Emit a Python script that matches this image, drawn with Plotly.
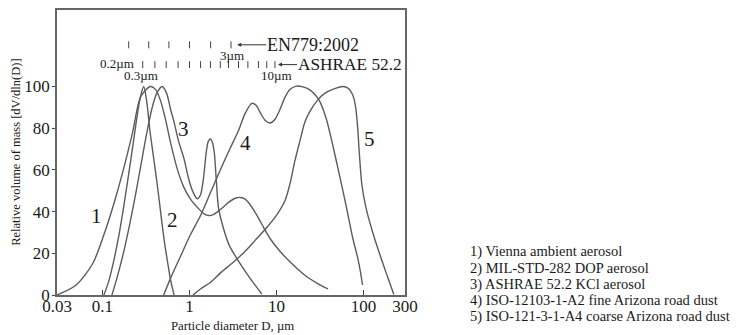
import numpy as np
import plotly.graph_objects as go

# ---- data (particle diameter in µm, relative volume) ----
d1 = [0.03, 0.0498, 0.0773, 0.1096, 0.1364, 0.1702, 0.2213, 0.2754, 0.3556, 0.4087, 0.4662, 0.5317,
      0.6065, 0.7292, 0.854, 1.027, 1.267, 1.483, 1.662, 1.88, 2.261, 2.791, 3.356, 3.827, 4.365,
      4.979, 5.985, 7.197, 8.427, 10.96, 14.27, 21.17, 29.81, 39.08]
v1 = [0, 4.8, 15.1, 31.8, 44.4, 58.7, 77.8, 95.2, 100, 98.5, 93, 84,
      73, 60, 52, 46, 41.5, 38.8, 38.1, 38.6, 41, 44.3, 46.4, 46.8, 46,
      43.3, 38.1, 32, 27.1, 21, 15.9, 9.5, 5.5, 2.9]

d2 = [0.104, 0.1187, 0.1353, 0.1543, 0.1761, 0.2009, 0.2291, 0.2544, 0.2754, 0.2979, 0.3225, 0.349,
      0.3777, 0.4087, 0.4422, 0.4786, 0.5179, 0.5605, 0.6065, 0.6652]
v2 = [0, 7, 16.7, 28.6, 42.9, 58.6, 74.8, 88, 95.7, 100, 92.9, 79.5,
      69, 58.6, 47.6, 35.7, 24.8, 15.7, 7.1, 0]

d3 = [0.1284, 0.1464, 0.1715, 0.2009, 0.2351, 0.2754, 0.3225, 0.3679, 0.4196, 0.4849, 0.546, 0.6065,
      0.6616, 0.7487, 0.8608, 0.9741, 1.082, 1.225, 1.336, 1.445, 1.564, 1.649, 1.738, 1.832, 1.931,
      2.035, 2.162, 2.466, 2.865, 3.509, 4.979, 6.773]
v3 = [0, 8.1, 19, 32, 46.2, 61.9, 77.6, 89, 96.7, 100, 96.7, 89,
      83.3, 73.8, 65.7, 56, 50, 46.2, 48, 55.7, 69, 73.8, 74.8, 73.3, 68,
      54.8, 41.4, 31.8, 23.8, 17.5, 8, 0.5]

d4 = [0.5044, 0.6065, 0.7892, 1.027, 1.336, 1.738, 2.261, 2.942, 3.631, 4.365, 5.207, 5.831, 6.478,
      7.389, 8.427, 9.613, 10.96, 12.51, 14.27, 17.02, 20.09, 24.15, 28.28, 31.42, 37.48, 44.59,
      53.19, 63.44, 75.45, 86.08, 92.4, 97.4]
v4 = [0, 8.1, 18.6, 29, 38, 49, 60, 70.5, 78.5, 87.1, 91.9, 91, 87.6,
      83.8, 82.5, 84.3, 89, 94.8, 98.6, 100.2, 99.8, 98.4, 95.7, 92.9, 84.3, 71.4,
      57.1, 42.4, 27.1, 17.6, 11, 4.8]

d5 = [1.096, 1.336, 1.738, 2.261, 3.184, 4.365, 5.679, 7.727, 10.13, 12.51, 14.27, 16.27, 18.56,
      21.17, 24.15, 29.81, 35.84, 44.24, 57.99, 67.41, 74.86, 81.02, 85.4, 90.0, 96.13, 107.4,
      127.7, 159.4, 188.1, 223.2]
v5 = [0, 2.9, 6, 10.5, 15.7, 21, 26.2, 32.4, 38.6, 45.2, 53.3, 64.3, 73.8,
      82.9, 88, 93.6, 96.7, 98.6, 100, 99, 96.2, 90.5, 81, 66.7, 52.4, 41.4,
      30, 17.6, 9, 0.2]

curve_labels = ["1", "2", "3", "4", "5"]
curve_label_d = [0.0843, 0.639, 0.847, 4.365, 117.2]
curve_label_v = [38.1, 36.2, 79.4, 73.0, 74.6]

# standard size-channel marks
en779_d = [0.2, 0.34, 0.58, 1.0, 1.75, 3.0]
en779_v = 120
ashrae_d = [0.29, 0.40, 0.54, 0.74, 1.0, 1.34, 1.74, 2.26, 2.81, 3.66, 4.69, 6.2, 7.73, 9.6]
ashrae_v = 110.5
size_labels = ["0.2µm", "0.3µm", "3µm", "10µm"]
size_label_d = [0.1465, 0.2754, 3.1, 10.1]
size_label_v = [111, 105.2, 114.8, 105.2]

x_tickvals = [0.03, 0.1, 1, 10, 100, 300]
x_ticktext = ["0.03", "0.1", "1", "10", "100", "300"]
y_tickvals = [0, 20, 40, 60, 80, 100]

legend_lines = ["1) Vienna ambient aerosol",
                "2) MIL-STD-282 DOP aerosol",
                "3) ASHRAE 52.2 KCl aerosol",
                "4) ISO-12103-1-A2 fine Arizona road dust",
                "5) ISO-121-3-1-A4 coarse Arizona road dust"]

SERIF = "Liberation Serif, Times New Roman, serif"
LC = "#5c5c5c"
TC = "#1a1a1a"

fig = go.Figure()
for d, v in [(d1, v1), (d2, v2), (d3, v3), (d4, v4), (d5, v5)]:
    fig.add_trace(go.Scatter(x=d, y=v, mode="lines", line=dict(color=LC, width=1.4, shape="spline", smoothing=0.8),
                             showlegend=False, hoverinfo="skip"))

for dd, vv in [(en779_d, en779_v), (ashrae_d, ashrae_v)]:
    fig.add_trace(go.Scatter(x=dd, y=[vv] * len(dd), mode="markers",
                             marker=dict(symbol="line-ns", size=5, line=dict(width=1, color="#444")),
                             showlegend=False, hoverinfo="skip"))

ann = []
for t, d, v in zip(curve_labels, curve_label_d, curve_label_v):
    ann.append(dict(x=np.log10(d), y=v, xref="x", yref="y", text=t, showarrow=False,
                    xanchor="center", yanchor="middle",
                    font=dict(family=SERIF, size=21, color=TC)))
for t, d, v in zip(size_labels, size_label_d, size_label_v):
    ann.append(dict(x=np.log10(d), y=v, xref="x", yref="y", text=t, showarrow=False,
                    xanchor="center", yanchor="middle",
                    font=dict(family=SERIF, size=13, color=TC)))
# arrows to standard names
ann.append(dict(x=np.log10(3.54), y=en779_v, xref="x", yref="y", text="EN779:2002", showarrow=True,
                ax=29, ay=0, xanchor="left", yanchor="middle", borderpad=0,
                arrowhead=2, arrowsize=0.8, arrowwidth=1, arrowcolor="#333", standoff=0,
                font=dict(family=SERIF, size=18, color=TC)))
ann.append(dict(x=np.log10(10.4), y=ashrae_v, xref="x", yref="y", text="ASHRAE 52.2", showarrow=True,
                ax=19, ay=0, xanchor="left", yanchor="middle", borderpad=0,
                arrowhead=2, arrowsize=0.8, arrowwidth=1, arrowcolor="#333", standoff=0,
                font=dict(family=SERIF, size=17.3, color=TC)))
# axis titles
ann.append(dict(x=0.503, y=-0.108, xref="paper", yref="paper", text="Particle diameter D, µm",
                xanchor="center", yanchor="middle",
                showarrow=False, font=dict(family=SERIF, size=12.8, color=TC)))
ann.append(dict(x=-0.118, y=0.502, xref="paper", yref="paper", text="Relative volume of mass [dV/dln(D)]",
                xanchor="center", yanchor="middle",
                textangle=-90, showarrow=False, font=dict(family=SERIF, size=12.5, color=TC)))
# legend text
leg_y = [0.1509, 0.093, 0.0373, -0.0209, -0.0756]
for t, yy in zip(legend_lines, leg_y):
    ann.append(dict(x=1.181, y=yy, xref="paper", yref="paper", text=t, showarrow=False,
                    xanchor="left", yanchor="middle", font=dict(family=SERIF, size=14.5, color=TC)))

# page body has an 8px default margin: figure sized/offset to compensate
fig.update_layout(
    width=730, height=327,
    margin=dict(l=49, r=333, t=0, b=40),
    paper_bgcolor="white", plot_bgcolor="white",
    annotations=ann,
    xaxis=dict(type="log", range=[np.log10(0.03), np.log10(300)], tickvals=x_tickvals, ticktext=x_ticktext,
               ticks="inside", ticklen=5, tickcolor="#444", showgrid=False, zeroline=False,
               showline=True, linecolor="#666", linewidth=1.5, mirror=True, ticklabelstandoff=-5,
               tickfont=dict(family=SERIF, size=17, color=TC)),
    yaxis=dict(range=[0, 136.7], tickvals=y_tickvals, ticks="outside", ticklen=3, tickcolor="#444",
               showgrid=False, zeroline=False, showline=True, linecolor="#666", linewidth=1.5, mirror=True,
               ticklabelstandoff=-1,
               tickfont=dict(family=SERIF, size=17, color=TC)),
)

fig.write_html("out.html")
